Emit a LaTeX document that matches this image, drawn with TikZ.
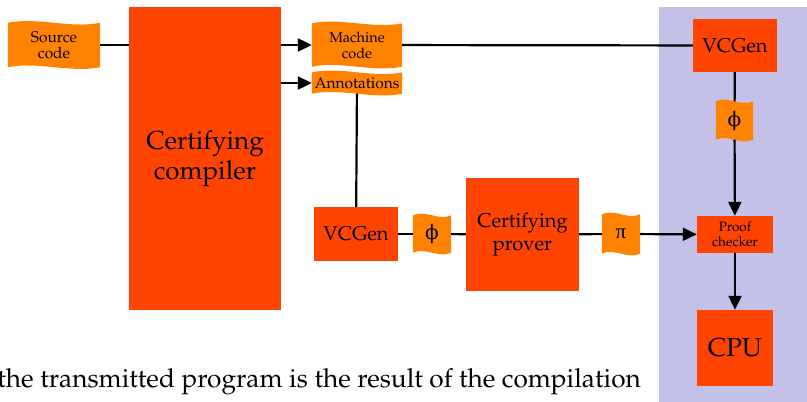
\documentclass[tikz,border=0pt]{standalone}
\usepackage{fontspec}
\usepackage[T1]{fontenc}
\usepackage{mathpazo}
\usepackage{tikz}
\usetikzlibrary{arrows.meta,calc,backgrounds}
\newfontfamily\greekfont{DejaVu Serif}
\newfontfamily\timesgreek{Liberation Serif}
\definecolor{CompRed}{HTML}{FF4300}
\definecolor{TagOrange}{HTML}{FF8200}
\definecolor{HostLilac}{HTML}{C3C1E8}
\tikzset{
  ccbox/.style={fill=CompRed, align=center, inner sep=2pt},
  cctag/.style={align=center, inner sep=1pt},
  ccgreek/.style={cctag, font=\greekfont\fontsize{20}{22}\selectfont},
  ccline/.style={line width=2.2pt, draw=black},
  ccarrow/.style={-{Triangle[length=14pt,width=13pt]}, line width=2.2pt, draw=black}
}

\begin{document}
\begin{tikzpicture}[x=1pt,y=-1pt]
  \useasboundingbox (0,0) rectangle (807,402);
  % producer side
  \node[cctag, minimum width=92pt, minimum height=44pt, font=\fontsize{15.5}{16}\selectfont] (src) at (54,45) {Source\\code};
  \node[ccbox, minimum width=152pt, minimum height=303pt, font=\fontsize{26}{30}\selectfont] (compiler) at (205,158.5) {Certifying\\compiler};
  \node[cctag, minimum width=90pt, minimum height=43pt, font=\fontsize{14.5}{16}\selectfont] (mcode) at (357,45) {Machine\\code};
  \node[cctag, minimum width=90pt, minimum height=21pt, font=\fontsize{15.5}{16}\selectfont] (annot) at (357,83) {Annotations};
  \node[ccbox, minimum width=84pt, minimum height=54pt, font=\fontsize{20}{22}\selectfont] (vcgenB) at (356,234) {VCGen};
  \node[ccgreek, minimum width=38pt, minimum height=37pt] (phiB) at (432,234) {ϕ};
  \node[ccbox, minimum width=113pt, minimum height=113pt, font=\fontsize{20}{23}\selectfont] (prover) at (522.5,234.5) {Certifying\\prover};
  \node[cctag, minimum width=38pt, minimum height=39pt, font=\timesgreek\fontsize{21}{22}\selectfont] (pitag) at (621,234) {π};
  % consumer side
  \node[ccbox, minimum width=84pt, minimum height=53pt, font=\fontsize{20}{22}\selectfont] (vcgenA) at (735,45.5) {VCGen};
  \node[ccgreek, minimum width=37pt, minimum height=38pt] (phiA) at (734.5,120.5) {ϕ};
  \node[ccbox, minimum width=76pt, minimum height=37pt, font=\fontsize{13.5}{15}\selectfont] (checker) at (735,234.5) {Proof\\checker};
  \node[ccbox, minimum width=76pt, minimum height=76pt, font=\fontsize{26}{28}\selectfont] (cpu) at (735,348) {CPU};
  \node[anchor=base east, inner sep=0pt, font=\fontsize{26.2}{30}\selectfont] (remark) at (641,387) {the transmitted program is the result of the compilation};

  \begin{scope}[on background layer]
    \fill[HostLilac] (659,7) rectangle (807,402);
    \foreach \t in {src,mcode,annot,phiA,phiB,pitag} {
      \fill[TagOrange] (\t.north west)
        .. controls ($(\t.north west)!0.33!(\t.north east)+(0,-6)$) and ($(\t.north west)!0.67!(\t.north east)+(0,6)$) .. (\t.north east)
        -- (\t.south east)
        .. controls ($(\t.south west)!0.67!(\t.south east)+(0,6)$) and ($(\t.south west)!0.33!(\t.south east)+(0,-6)$) .. (\t.south west)
        -- cycle;
    }
  \end{scope}

  \draw[ccline] (src) -- (src -| compiler.west);
  \draw[ccarrow] (compiler.east |- mcode) -- (mcode.west);
  \draw[ccarrow] (compiler.east |- annot) -- (annot.west);
  \draw[ccline] (mcode) -- (vcgenA);
  \draw[ccline] (annot) -- (vcgenB);
  \draw[ccline] (vcgenB) -- (phiB);
  \draw[ccline] (phiB) -- (prover);
  \draw[ccline] (prover) -- (pitag);
  \draw[ccarrow] (pitag) -- (checker);
  \draw[ccline] (vcgenA) -- (phiA);
  \draw[ccarrow] (phiA) -- (checker);
  \draw[ccarrow] (checker) -- (cpu);
\end{tikzpicture}
\end{document}
